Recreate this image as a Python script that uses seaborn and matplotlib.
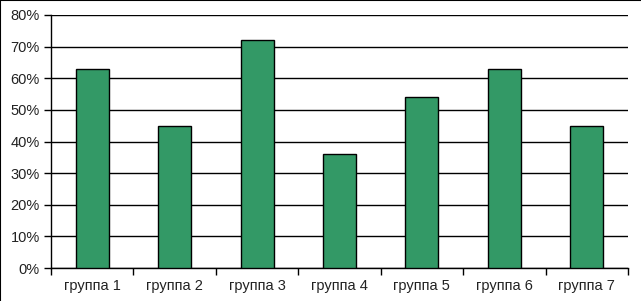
import matplotlib
matplotlib.use("Agg")
import matplotlib.pyplot as plt
from matplotlib.lines import Line2D
from matplotlib.ticker import FixedLocator
import seaborn as sns
import pandas as pd

categories = ["группа 1", "группа 2", "группа 3", "группа 4", "группа 5", "группа 6", "группа 7"]
values = [63, 45, 72, 36, 54, 63, 45]
yticks = [0, 10, 20, 30, 40, 50, 60, 70, 80]

df = pd.DataFrame({"cat": categories, "val": values})

sns.set_theme(style="white")
plt.rcParams["font.family"] = ["Liberation Sans", "DejaVu Sans"]

fig = plt.figure(figsize=(6.41, 3.01), dpi=100)
ax = fig.add_axes([51/641, 1-268/301, (628-51)/641, (268-15)/301])

sns.barplot(data=df, x="cat", y="val", color="#339966", saturation=1,
            width=0.4, edgecolor="black", linewidth=1, ax=ax, zorder=3)

ax.set_ylim(0, 80)
ax.set_xlim(-0.5, len(categories) - 0.5)
ax.set_yticks(yticks)
ax.set_yticklabels([f"{t}%" for t in yticks], fontsize=10.5, color="#222222")
ax.set_xticks(range(len(categories)))
ax.set_xticklabels(categories, fontsize=10.5, color="#222222")
ax.set_xlabel("")
ax.set_ylabel("")
ax.yaxis.grid(True, color="black", linewidth=1)
ax.set_axisbelow(True)
for side in ["top", "right"]:
    ax.spines[side].set_visible(False)
for side in ["left", "bottom"]:
    ax.spines[side].set_color("black")
    ax.spines[side].set_linewidth(1)

ax.tick_params(axis="y", which="major", length=5, width=1, color="black", left=True, pad=3)
ax.tick_params(axis="x", which="major", length=0, pad=8)
ax.xaxis.set_minor_locator(FixedLocator([i + 0.5 for i in range(-1, len(categories))]))
ax.tick_params(axis="x", which="minor", length=5, width=1, color="black", bottom=True, direction="out")

fig.add_artist(Line2D([0, 0], [0, 1], transform=fig.transFigure, color="black", linewidth=1.5))
fig.add_artist(Line2D([0, 1], [1, 1], transform=fig.transFigure, color="black", linewidth=1.5))

fig.savefig("out.png", dpi=100, facecolor="white")
